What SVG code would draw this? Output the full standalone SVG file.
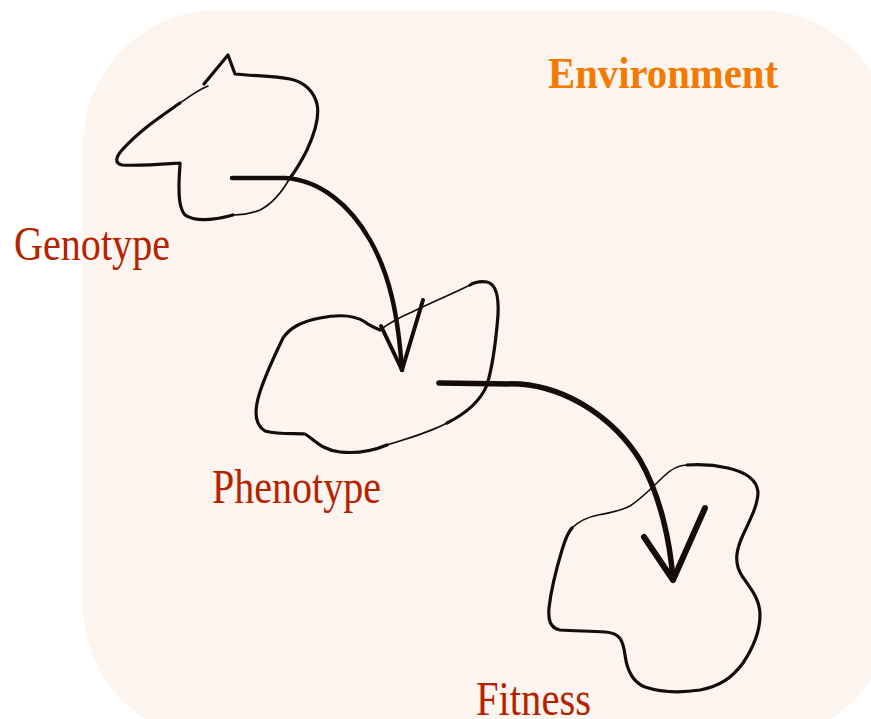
<svg xmlns="http://www.w3.org/2000/svg" width="871" height="719" viewBox="0 0 871 719">
<style>
.blob{fill:none;stroke:#140c08;stroke-linecap:round;stroke-linejoin:round}
.thin{stroke-width:1.6}
.mid{stroke-width:3.2}
.arrow{fill:none;stroke:#140c08;stroke-linecap:round;stroke-linejoin:round}
.lbl{font-family:"Liberation Serif","Times New Roman",serif;font-size:48px;fill:#b52300}
.env{font-family:"Liberation Serif","Times New Roman",serif;font-size:44px;font-weight:bold;fill:#f27a00}
</style>
<rect id="environment-bg" x="83" y="10" width="810" height="730" rx="135" ry="135" fill="#fcf4ee"/>
<g id="environment"><text class="env" x="548" y="88" textLength="230" lengthAdjust="spacingAndGlyphs">Environment</text></g>
<g id="genotype">
<path class="blob mid" d="M204,84 L228,55 L235,74 C255,76 275,76 290,79 C305,82 314,92 317,104 C320,118 314,135 307,150 C302,160 296,170 290,178"/>
<path class="blob thin" d="M290,178 C282,192 272,204 260,210 C250,214 242,215 233,215"/>
<path class="blob mid" d="M233,215 C215,220 195,222 185,215 C179,208 179,195 179,185 C179,175 180,168 180,163 C165,164 140,166 122,165 C114,163 116,157 122,150 C140,130 160,117 180,103"/>
<path class="blob thin" d="M180,103 C190,96 198,90 208,86"/>
<text class="lbl" x="14" y="260" textLength="156" lengthAdjust="spacingAndGlyphs">Genotype</text>
</g>
<g id="phenotype">
<path class="blob mid" d="M380,330 C375,328 370,326 365,322 C356,316 340,314 320,318 C300,322 290,328 283,338 C275,355 265,375 259,395 C254,412 255,425 265,431 C280,435 295,433 305,434 C315,440 322,450 340,452 C360,454 375,450 387,445"/>
<path class="blob thin" d="M387,445 C410,438 430,432 447,423"/>
<path class="blob mid" d="M447,423 C465,414 480,402 487,385 C493,365 496,340 498,315 C499,295 496,284 487,282 C480,281 475,282 470,285"/>
<path class="blob thin" d="M470,285 C450,295 430,303 412,312 C398,318 388,324 380,330"/>
<text class="lbl" x="212" y="503" textLength="169" lengthAdjust="spacingAndGlyphs">Phenotype</text>
</g>
<g id="fitness">
<path class="blob thin" d="M572,528 C580,520 588,517 598,515 C610,513 620,511 630,506 C642,498 652,488 663,477 C672,468 680,465 687,465"/>
<path class="blob mid" d="M687,465 C700,464 715,465 728,468 C745,472 757,480 758,492 C758,505 750,520 743,535 C737,548 733,562 742,576 C752,590 760,600 760,615 C760,632 753,648 743,663 C732,678 720,686 700,690 C680,693 660,692 645,687 C632,682 627,670 625,655 C623,640 620,633 605,632 C590,631 575,631 560,630 C550,628 548,620 549,608 C551,590 556,570 562,550 C565,540 568,532 572,528"/>
<text class="lbl" x="476" y="715" textLength="115" lengthAdjust="spacingAndGlyphs">Fitness</text>
</g>
<g id="connectors">
<path class="arrow" stroke-width="4.5" d="M232,178 L285,178 C320,180 350,205 370,240 C390,275 398,315 402,370"/>
<path class="arrow" stroke-width="4" d="M381,326 L402,370 L423,300"/>
<path class="arrow" stroke-width="5.5" d="M439,383 L520,384 C570,388 615,420 640,460 C660,495 670,540 673,580"/>
<path class="arrow" stroke-width="6" d="M644,537 L673,580 L705,508"/>
</g>
</svg>
